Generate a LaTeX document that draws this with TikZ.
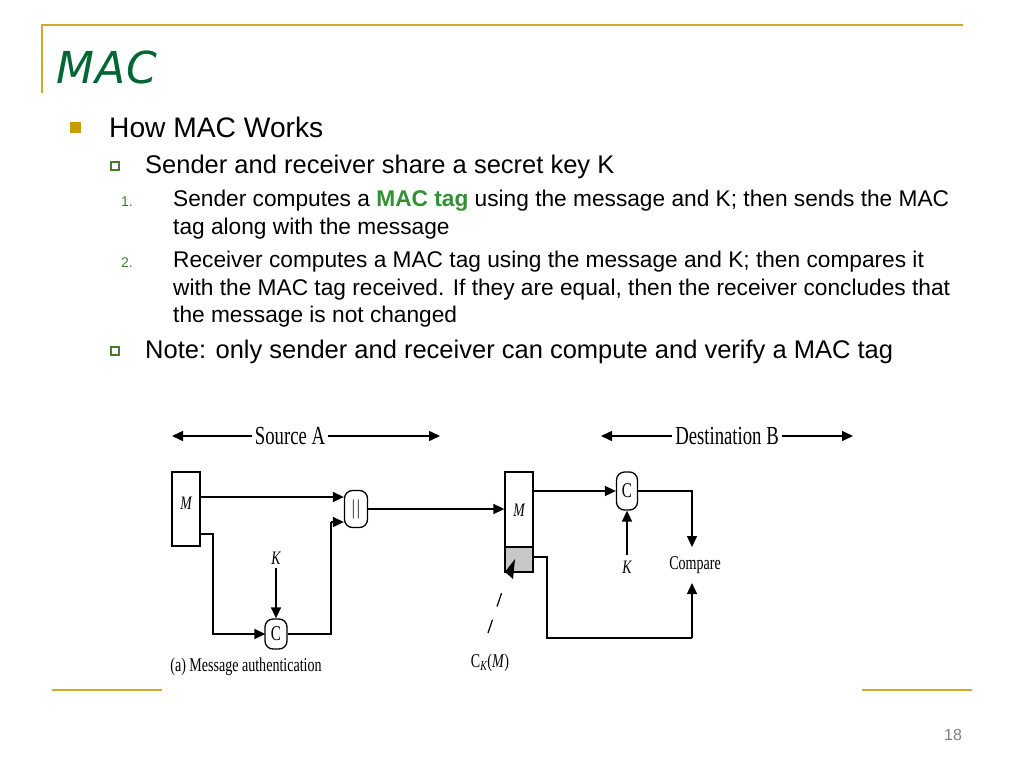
\documentclass[tikz,border=0pt]{standalone}
\usepackage{fontspec}
\setmainfont{Liberation Sans}
\newfontfamily\tfont[FakeStretch=0.72]{Liberation Serif}
\newfontfamily\titlefont{DejaVu Sans}
\usetikzlibrary{arrows.meta}
\definecolor{gold}{RGB}{212,168,40}
\definecolor{bgold}{RGB}{200,155,0}
\definecolor{titlegreen}{RGB}{0,102,51}
\definecolor{bgreen}{RGB}{70,125,45}
\definecolor{macgreen}{RGB}{51,145,51}
\definecolor{boxgrey}{RGB}{200,200,200}
\tikzset{
  txt/.style={anchor=base west, inner sep=0pt},
  arr/.style={line width=1.5pt, -{Triangle[length=11pt,width=10pt]}},
  ln/.style={line width=1.5pt},
  blk/.style={draw, line width=1.3pt, minimum width=28pt, inner sep=0pt},
  op/.style={draw, line width=1.3pt, rounded corners=8pt, inner sep=0pt, font=\tfont\fontsize{21}{22}\selectfont},
  dlab/.style={inner sep=0pt, font=\tfont\fontsize{19.5}{22}\selectfont},
  head/.style={inner sep=3pt, font=\tfont\fontsize{26}{28}\selectfont},
  lvone/.style={txt, font=\fontsize{28.2}{34}\selectfont},
  lvtwo/.style={txt, font=\fontsize{25.5}{30}\selectfont},
  lvthree/.style={txt, font=\fontsize{22.7}{27}\selectfont},
  num/.style={txt, text=bgreen, font=\fontsize{14}{16}\selectfont},
  hollow/.style={draw=bgreen, line width=1.6pt, minimum size=8pt, inner sep=0pt},
  goldline/.style={draw=gold, line width=2pt}
}
\begin{document}
\begin{tikzpicture}[x=1pt,y=-1pt]
\useasboundingbox (0,0) rectangle (1024,768);
\fill[white] (0,0) rectangle (1024,768);
% frame
\draw[goldline] (42,25) -- (963,25);
\draw[goldline] (42,24) -- (42,93);
\draw[gold, line width=2.5pt] (52,690) -- (162,690);
\draw[gold, line width=2.5pt] (862,690) -- (972,690);
% title
\node[anchor=base west, inner sep=0pt, text=titlegreen, font=\titlefont\itshape\fontsize{44}{48}\selectfont] (title) at (56,83) {M\kern1pt A\kern1pt C};
% bullets
\node[fill=bgold, minimum size=11pt, inner sep=0pt] (b1) at (75,127) {};
\node[lvone] (l1) at (109,137) {How MAC Works};
\node[hollow] (b2) at (115,166) {};
\node[lvtwo] (l2) at (145,173) {Sender and receiver share a secret key K};
\node[num] (n1) at (121,206) {1.};
\node[lvthree] (l3a) at (173,206) {Sender computes a \textcolor{macgreen}{\bfseries MAC tag} using the message and K; then sends the MAC};
\node[lvthree] (l3b) at (173,234) {tag along with the message};
\node[num] (n2) at (121,267) {2.};
\node[lvthree] (l4a) at (173,267) {Receiver computes a MAC tag using the message and K; then compares it};
\node[lvthree] (l4b) at (173,295) {with the MAC tag received. If they are equal, then the receiver concludes that};
\node[lvthree] (l4c) at (173,322) {the message is not changed};
\node[hollow] (b3) at (115,351) {};
\node[lvtwo] (l5) at (145,358) {Note: only sender and receiver can compute and verify a MAC tag};
% page number
\node[inner sep=0pt, text=gray, font=\fontsize{16}{18}\selectfont] (pg) at (953,735) {18};

% ---------- diagram ----------
\node[head] (srcA) at (290,436) {Source A};
\coordinate (srcL) at (172,436);
\coordinate (srcR) at (440,436);
\draw[arr] (srcA.west) -- (srcL);
\draw[arr] (srcA.east) -- (srcR);
\node[head] (dstB) at (727,436) {Destination B};
\coordinate (dstL) at (601,436);
\coordinate (dstR) at (853,436);
\draw[arr] (dstB.west) -- (dstL);
\draw[arr] (dstB.east) -- (dstR);

% source side
\node[blk, minimum height=74pt] (mA) at (186,509) {};
\node[dlab, font=\tfont\itshape\fontsize{19}{22}\selectfont] (mAl) at (186,503) {M};
\node[op, minimum width=23pt, minimum height=37pt] (cat) at (356,509) {|\kern2pt|};
\node[op, minimum width=22pt, minimum height=30pt] (cA) at (276,634) {C};
\node[dlab, font=\tfont\itshape\fontsize{19}{22}\selectfont] (kA) at (276,558) {K};
\coordinate (jA1) at (213,534);
\coordinate (jA2) at (331,522);
\draw[arr] (mA.east |- 0,497) -- (cat.west |- 0,497);
\draw[ln] (mA.east |- jA1) -- (jA1) |- (cA.west);
\draw[arr, shorten >=-1pt] (cA.west -| jA1) -- (cA.west);
\draw[arr] (kA.south) ++(0,4) -- (cA.north);
\draw[ln] (cA.east) -| (jA2);
\draw[arr] (jA2) -- (cat.west |- jA2);
\node[dlab] (capA) at (246,667) {(a) Message authentication};

% destination side
\node[blk, minimum height=75pt] (mB) at (519,509.5) {};
\node[blk, fill=boxgrey, minimum height=25pt] (gB) at (519,559.5) {};
\node[dlab, font=\tfont\itshape\fontsize{19}{22}\selectfont] (mBl) at (519,510) {M};
\draw[arr] (cat.east) -- (mB.west |- cat.east);
\node[op, minimum width=21pt, minimum height=38pt] (cB) at (627,491) {C};
\node[dlab, font=\tfont\itshape\fontsize{19}{22}\selectfont] (kB) at (627,567) {K};
\draw[arr] (kB.north) ++(0,-6) -- (cB.south);
\draw[arr] (mB.east |- cB.west) -- (cB.west);
\node[dlab, minimum height=36pt] (cmp) at (695,565) {Compare};
\coordinate (cmpTop) at (692,547);
\coordinate (cmpBot) at (692,583);
\draw[arr] (cB.east) -| (cmpTop);
\coordinate (jB1) at (547,557);
\coordinate (jB2) at (692,638);
\draw[ln] (gB.east |- jB1) -- (jB1) |- (jB2);
\draw[arr] (jB2) -- (cmpBot);

% C_K(M) pointer
\node[dlab] (ckm) at (490,663) {C\textsubscript{\itshape K}(\textit{M})};
\coordinate (ptTip) at (505,572);
\draw[line width=1.2pt, dash pattern=on 14pt off 14pt] (488,633) -- (504,586);
\fill (ptTip) -- (515,559) -- (513,579) -- cycle;
\end{tikzpicture}
\end{document}
